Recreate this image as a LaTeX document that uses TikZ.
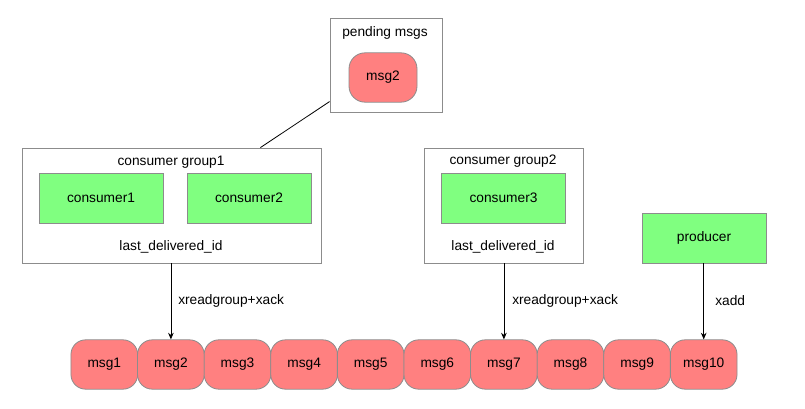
\documentclass[tikz,border=0pt]{standalone}
\usepackage{fontspec}
\setmainfont{Liberation Sans}
\usetikzlibrary{arrows.meta,calc}

\definecolor{msgred}{RGB}{255,128,128}
\definecolor{workgreen}{RGB}{128,255,128}
\definecolor{edgegray}{RGB}{140,140,140}

\begin{document}
\begin{tikzpicture}[x=0.75pt,y=-0.75pt,
  font=\fontsize{10.3}{12}\selectfont,
  groupbox/.style={draw=edgegray,fill=white,line width=0.6pt,inner sep=0pt},
  worker/.style={draw=edgegray,fill=workgreen,line width=0.6pt,
    minimum width=93pt,minimum height=37.5pt,inner sep=0pt},
  msgbox/.style={draw=edgegray,fill=msgred,line width=0.6pt,rounded corners=11pt,
    minimum width=50pt,minimum height=37pt,inner sep=0pt},
  label/.style={inner sep=0pt},
  flow/.style={draw=black,line width=0.6pt,-{Stealth[length=5pt,width=4.2pt]}},
]
\useasboundingbox (0,0) rectangle (805,409);

% pending entries list
\node[groupbox,minimum width=84pt,minimum height=70pt] (pend) at (386,65.5) {};
\node[label] (pendtitle) at (385,33) {pending msgs};
\node[msgbox,minimum width=51pt,rounded corners=12pt] (pmsg) at (383,77.5) {msg2};

% consumer group 1
\node[groupbox,minimum width=224.25pt,minimum height=86.25pt] (g1) at (171.5,205.5) {};
\node[label] (g1title) at (171,162) {consumer group1};
\node[worker] (c1) at (101,198) {consumer1};
\node[worker] (c2) at (249,198) {consumer2};
\node[label] (g1id) at (171,247) {last\_delivered\_id};

% consumer group 2
\node[groupbox,minimum width=119.25pt,minimum height=86.25pt] (g2) at (503.5,205.5) {};
\node[label] (g2title) at (503,161) {consumer group2};
\node[worker] (c3) at (503.5,198) {consumer3};
\node[label] (g2id) at (503,247) {last\_delivered\_id};

% producer
\node[worker] (prod) at (704,238) {producer};

% the stream
\foreach \i in {1,...,10}{
  \node[msgbox] (m\i) at ({71+66.6*(\i-0.5)},364.5) {msg\i};
}

% links
\draw[black,line width=0.6pt] ($(pend.south west)+(0,-11)$) -- ($(g1.north east)+(-61,0)$);
\draw[flow] (g1.south -| m2.north) -- (m2.north);
\draw[flow] (g2.south -| m7.north) -- (m7.north);
\draw[flow] (prod.south -| m10.north) -- (m10.north);

\node[label,anchor=west] (l1) at (178,301) {xreadgroup+xack};
\node[label,anchor=west] (l2) at (512,301) {xreadgroup+xack};
\node[label,anchor=west] (l3) at (715,301) {xadd};
\end{tikzpicture}
\end{document}
